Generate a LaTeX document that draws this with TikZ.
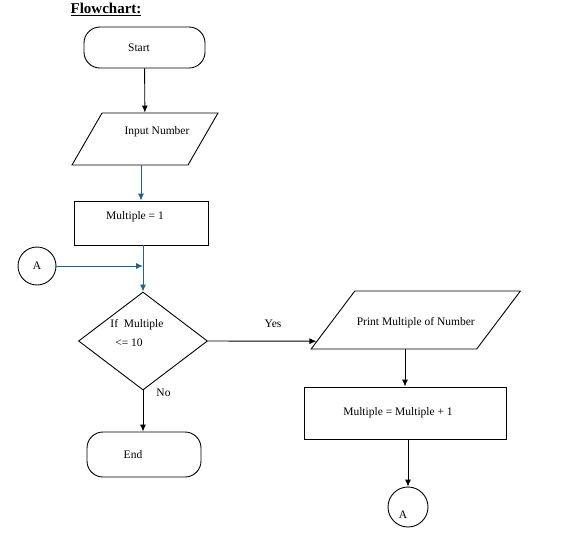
\documentclass[tikz,border=0pt]{standalone}
\usepackage{fontspec}
\setmainfont{Liberation Serif}
\usetikzlibrary{shapes.geometric,arrows.meta,calc}
\definecolor{flowblue}{RGB}{31,100,140}

\begin{document}
\begin{tikzpicture}[x=1pt,y=-1pt,
      every node/.style={font=\fontsize{11.5}{13}\selectfont, draw, line width=0.9pt, inner sep=2pt},
      term/.style={rectangle, rounded corners=16pt},
      io/.style={trapezium, trapezium stretches body, trapezium left angle=#1, trapezium right angle=180-#1},
      proc/.style={rectangle},
      decide/.style={diamond, inner sep=0pt},
      conn/.style={circle, inner sep=0pt},
      arr/.style={line width=0.9pt, -{Latex[length=7pt,width=6pt]}},
      bluearr/.style={arr, draw=flowblue}]
      \useasboundingbox (0,0) rectangle (561,539);
      \node[draw=none, font=\fontsize{15}{17}\selectfont\bfseries] (title) at (106,9) {\underline{Flowchart:}};
      % left column
      \node[term, minimum width=121pt, minimum height=41pt] (start) at (144.5,47.5) {Start\hspace*{11pt}};
      \node[io=60, minimum width=146pt, text height=8pt, text depth=17pt, inner ysep=13.5pt] (input) at (145,139)
        {\makebox[0pt]{\hspace*{24pt}Input Number}};
      \node[proc, minimum width=134pt, minimum height=44pt, text depth=14pt] (init) at (141,223) {Multiple = 1\hspace*{12pt}};
      \node[conn, minimum size=38pt] (a1) at (37,266) {A};
      \node[decide, minimum width=129pt, minimum height=98pt] (check) at (143,341)
        {\raisebox{4pt}[0pt][0pt]{\makebox[0pt]{\begin{tabular}{@{}c@{}}If\enspace Multiple\hspace*{12pt}\\[6pt]\hspace*{-28pt}<= 10\end{tabular}}}};
      \node[term, minimum width=114pt, minimum height=45pt] (end) at (144,454.5) {End\hspace*{22pt}};
      % right column
      \node[io=53, minimum width=207pt, text height=14pt, text depth=3pt, inner ysep=20.5pt] (print) at (415.75,320)
        {Print Multiple of Number};
      \node[proc, minimum width=202pt, minimum height=52pt] (incr) at (405,413) {Multiple = Multiple + 1\hspace*{14pt}};
      \node[conn, minimum size=40pt, text height=22pt] (a2) at (408,507) {A\hspace*{10pt}};
      % connectors
      \draw[arr] (start) -- (input);
      \draw[bluearr] (input.south -| init.north) -- (init.north);
      \draw[bluearr] (init.south -| check.north) -- (check.north);
      \draw[bluearr] (a1) -- (a1 -| check.north);
      \draw[arr] (check.east) -- node[pos=0.6, above=11pt, draw=none] {Yes}
        ($(print.bottom left corner)!0.14!(print.top left corner)$);
      \draw[arr] (check.south) -- node[pos=0.05, right=11pt, draw=none] {No} (check.south |- end.north);
      \draw[arr] (print.south -| incr.north) -- (incr.north);
      \draw[arr] (incr.south -| a2) -- (a2);
    \end{tikzpicture}
\end{document}
